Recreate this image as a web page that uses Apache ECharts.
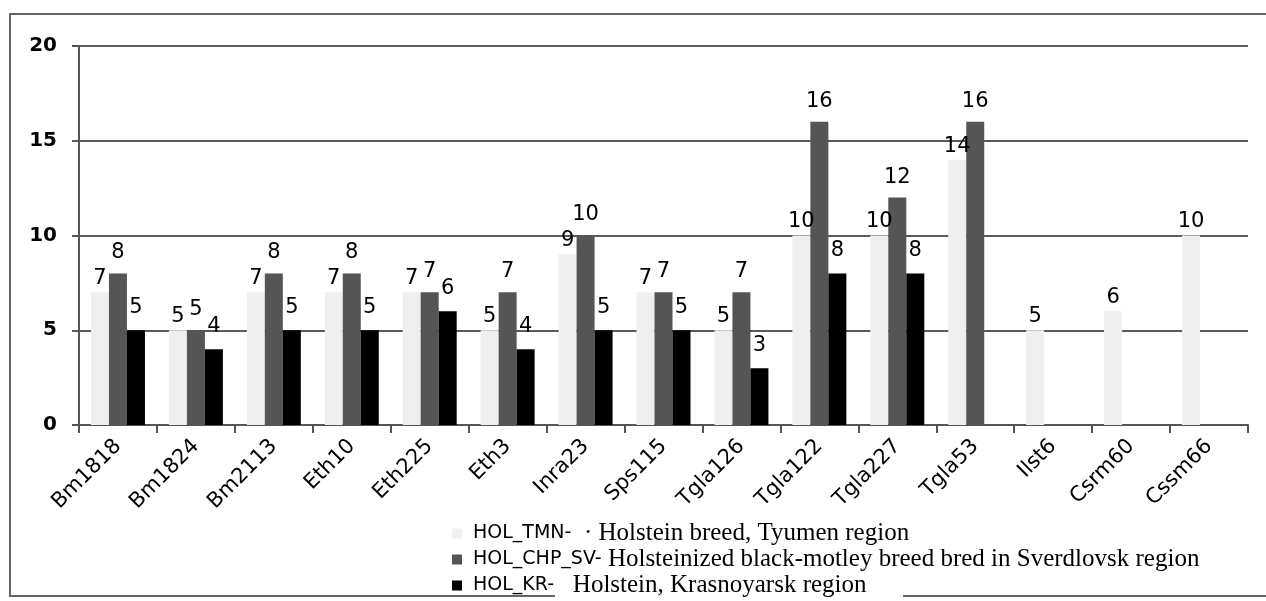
<!DOCTYPE html>
<html><head><meta charset="utf-8">
<script src="https://cdn.jsdelivr.net/npm/echarts@6/dist/echarts.min.js"></script>
<style>html,body{margin:0;padding:0;background:#fff}#c{width:1266px;height:601px}</style>
</head><body><div id="c"></div>
<script>
const categories = ['Bm1818','Bm1824','Bm2113','Eth10','Eth225','Eth3','Inra23','Sps115','Tgla126','Tgla122','Tgla227','Tgla53','Ilst6','Csrm60','Cssm66'];
const holTmn   = [7,5,7,7,7,5,9,7,5,10,10,14,5,6,10];
const holChpSv = [8,5,8,8,7,7,10,7,7,16,12,16,null,null,null];
const holKr    = [5,4,5,5,6,4,5,5,3,8,8,null,null,null,null];
const seriesNames = ['HOL_TMN-','HOL_CHP_SV-','HOL_KR-'];
const legendDescriptions = ['Holstein breed, Tyumen region','Holsteinized black-motley breed bred in Sverdlovsk region','Holstein, Krasnoyarsk region'];
const yMin = 0, yMax = 20, yInterval = 5;

const chart = echarts.init(document.getElementById('c'));
const labelFont = {fontFamily:'DejaVu Sans', fontSize:21, color:'#000'};
function mkSeries(name, data, color, dist){
  return {
    name, type:'bar', data, barWidth:18, barGap:'0%',
    itemStyle:{color},
    label:{show:true, position:'top', distance:dist, ...labelFont},
    emphasis:{disabled:true}
  };
}
const legendFmt = {};
legendFmt[seriesNames[0]] = '{s|' + seriesNames[0] + '}{t|  · ' + legendDescriptions[0] + '}';
legendFmt[seriesNames[1]] = '{s|' + seriesNames[1] + '}{t| ' + legendDescriptions[1] + '}';
legendFmt[seriesNames[2]] = '{s|' + seriesNames[2] + '}{t|   ' + legendDescriptions[2] + '}';

chart.setOption({
  animation:false,
  backgroundColor:'#fff',
  grid:{left:79, right:18, top:46, bottom:176},
  xAxis:{
    type:'category', data:categories,
    axisLine:{lineStyle:{color:'#555', width:2}},
    axisTick:{show:true, length:8, lineStyle:{color:'#555', width:2}},
    axisLabel:{rotate:45, margin:18, fontFamily:'DejaVu Sans', fontSize:21, color:'#000', interval:0}
  },
  yAxis:{
    type:'value', min:yMin, max:yMax, interval:yInterval,
    axisLine:{show:true, lineStyle:{color:'#555', width:2}},
    axisTick:{show:true, length:7, lineStyle:{color:'#555', width:2}},
    axisLabel:{margin:22, fontFamily:'DejaVu Sans', fontWeight:'bold', fontSize:20, color:'#000'},
    splitLine:{show:true, lineStyle:{color:'#5a5a5a', width:2}}
  },
  legend:{
    orient:'vertical', left:452, top:521, height:100, padding:0, itemWidth:10, itemHeight:10, itemGap:1,
    icon:'rect', selectedMode:false,
    data:seriesNames,
    formatter:n=>legendFmt[n],
    textStyle:{
      color:'#000', lineHeight:22,
      rich:{
        s:{fontFamily:'DejaVu Sans', fontSize:19, lineHeight:22, color:'#000', padding:[0,0,0,6]},
        t:{fontFamily:'Liberation Serif', fontSize:25, lineHeight:22, color:'#000'}
      }
    }
  },
  graphic:[
    {type:'polyline', z:-1, shape:{points:[[555,596],[10,596],[10,14],[1270,14]]}, style:{stroke:'#666', lineWidth:2, fill:null}},
    {type:'line', z:-1, shape:{x1:903,y1:596,x2:1270,y2:596}, style:{stroke:'#666', lineWidth:2}}
  ],
  series:[
    mkSeries(seriesNames[0], holTmn, '#efefef', 3),
    mkSeries(seriesNames[1], holChpSv, '#555555', 10),
    mkSeries(seriesNames[2], holKr, '#000000', 12)
  ]
});
</script></body></html>
